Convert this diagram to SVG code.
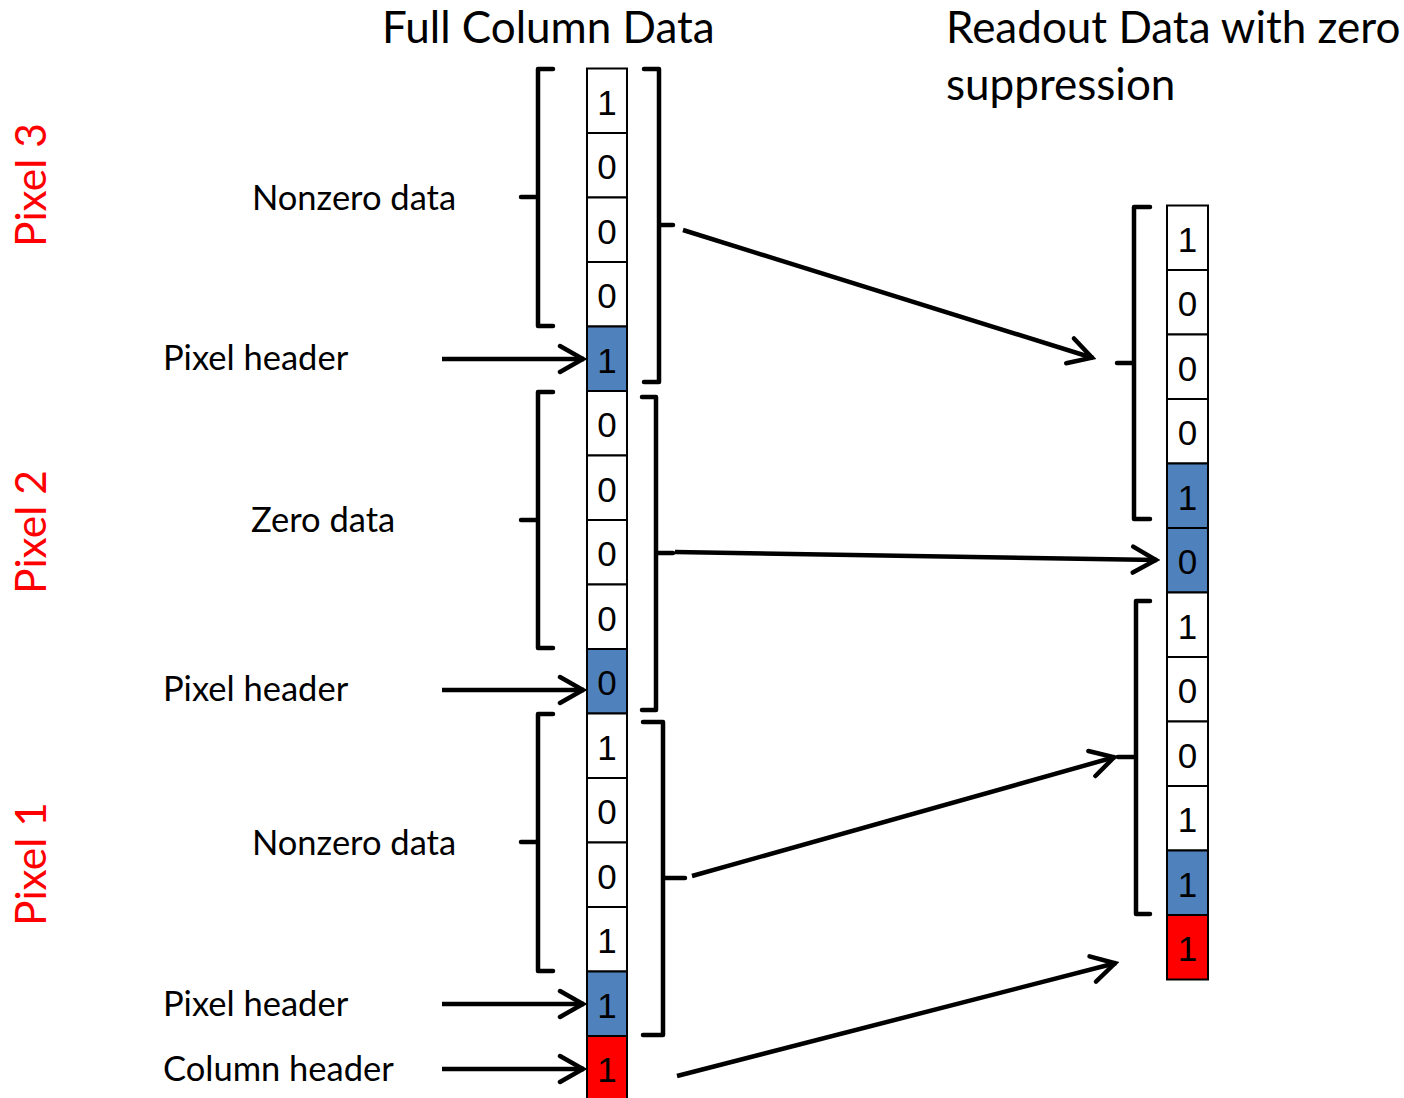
<svg xmlns="http://www.w3.org/2000/svg" width="1404" height="1098" viewBox="0 0 1404 1098">
<style>
.lbl{font-family:Lato,"Liberation Sans",sans-serif;font-size:34.5px;fill:#000}
.ttl{font-family:Lato,"Liberation Sans",sans-serif;font-size:44px;fill:#000}
.pix{font-family:Lato,"Liberation Sans",sans-serif;font-size:42.5px;fill:#ff0000}
.dig{font-family:"Liberation Sans",Arial,sans-serif;font-size:35px;fill:#000;text-anchor:middle}
.c{fill:#fff;stroke:#000;stroke-width:2}
.b{fill:#4f81bd;stroke:#000;stroke-width:2}
.r{fill:#ff0000;stroke:#000;stroke-width:2}
.br{fill:none;stroke:#000;stroke-width:4.5;stroke-linejoin:round;stroke-linecap:round}
.ln{fill:none;stroke:#000;stroke-width:4.5;marker-end:url(#arr)}
</style>
<defs>
<marker id="arr" viewBox="-28 -18 32 36" refX="1" refY="0" markerWidth="32" markerHeight="36" markerUnits="userSpaceOnUse" orient="auto">
<path d="M-23,-13 L0,0 L-23,13" fill="none" stroke="#000" stroke-width="4.5" stroke-linecap="round" stroke-linejoin="miter"/>
</marker>
</defs>
<rect width="1404" height="1098" fill="#fff"/>

<g id="titles">
<text class="ttl" x="382" y="43">Full Column Data</text>
<text class="ttl" x="946" y="43">Readout Data with zero</text>
<text class="ttl" x="946" y="100">suppression</text>
</g>

<g id="pixel-labels">
<text class="pix" transform="translate(46,247) rotate(-90)">Pixel 3</text>
<text class="pix" transform="translate(46,594) rotate(-90)">Pixel 2</text>
<text class="pix" transform="translate(46,926) rotate(-90)">Pixel 1</text>
</g>

<g id="side-labels">
<text class="lbl" x="252" y="210">Nonzero data</text>
<text class="lbl" x="163" y="370">Pixel header</text>
<text class="lbl" x="251" y="532">Zero data</text>
<text class="lbl" x="163" y="701">Pixel header</text>
<text class="lbl" x="252" y="855">Nonzero data</text>
<text class="lbl" x="163" y="1016">Pixel header</text>
<text class="lbl" x="163" y="1081">Column header</text>
</g>

<g id="full-column">
<rect class="c" x="587" y="68.5" width="40" height="64.5"/><text class="dig" x="607" y="114.5">1</text>
<rect class="c" x="587" y="133" width="40" height="64.5"/><text class="dig" x="607" y="179">0</text>
<rect class="c" x="587" y="197.5" width="40" height="64.5"/><text class="dig" x="607" y="243.5">0</text>
<rect class="c" x="587" y="262" width="40" height="64.5"/><text class="dig" x="607" y="308">0</text>
<rect class="b" x="587" y="326.5" width="40" height="64.5"/><text class="dig" x="607" y="372.5">1</text>
<rect class="c" x="587" y="391" width="40" height="64.5"/><text class="dig" x="607" y="437">0</text>
<rect class="c" x="587" y="455.5" width="40" height="64.5"/><text class="dig" x="607" y="501.5">0</text>
<rect class="c" x="587" y="520" width="40" height="64.5"/><text class="dig" x="607" y="566">0</text>
<rect class="c" x="587" y="584.5" width="40" height="64.5"/><text class="dig" x="607" y="630.5">0</text>
<rect class="b" x="587" y="649" width="40" height="64.5"/><text class="dig" x="607" y="695">0</text>
<rect class="c" x="587" y="713.5" width="40" height="64.5"/><text class="dig" x="607" y="759.5">1</text>
<rect class="c" x="587" y="778" width="40" height="64.5"/><text class="dig" x="607" y="824">0</text>
<rect class="c" x="587" y="842.5" width="40" height="64.5"/><text class="dig" x="607" y="888.5">0</text>
<rect class="c" x="587" y="907" width="40" height="64.5"/><text class="dig" x="607" y="953">1</text>
<rect class="b" x="587" y="971.5" width="40" height="64.5"/><text class="dig" x="607" y="1017.5">1</text>
<rect class="r" x="587" y="1036" width="40" height="64.5"/><text class="dig" x="607" y="1082">1</text>
</g>

<g id="readout-column">
<rect class="c" x="1167" y="205.5" width="41" height="64.5"/><text class="dig" x="1187.5" y="251.5">1</text>
<rect class="c" x="1167" y="270" width="41" height="64.5"/><text class="dig" x="1187.5" y="316">0</text>
<rect class="c" x="1167" y="334.5" width="41" height="64.5"/><text class="dig" x="1187.5" y="380.5">0</text>
<rect class="c" x="1167" y="399" width="41" height="64.5"/><text class="dig" x="1187.5" y="445">0</text>
<rect class="b" x="1167" y="463.5" width="41" height="64.5"/><text class="dig" x="1187.5" y="509.5">1</text>
<rect class="b" x="1167" y="528" width="41" height="64.5"/><text class="dig" x="1187.5" y="574">0</text>
<rect class="c" x="1167" y="592.5" width="41" height="64.5"/><text class="dig" x="1187.5" y="638.5">1</text>
<rect class="c" x="1167" y="657" width="41" height="64.5"/><text class="dig" x="1187.5" y="703">0</text>
<rect class="c" x="1167" y="721.5" width="41" height="64.5"/><text class="dig" x="1187.5" y="767.5">0</text>
<rect class="c" x="1167" y="786" width="41" height="64.5"/><text class="dig" x="1187.5" y="832">1</text>
<rect class="b" x="1167" y="850.5" width="41" height="64.5"/><text class="dig" x="1187.5" y="896.5">1</text>
<rect class="r" x="1167" y="915" width="41" height="64.5"/><text class="dig" x="1187.5" y="961">1</text>
</g>

<g id="brackets">
<path class="br" d="M553,69 H538 V326 H553 M538,197 H521"/>
<path class="br" d="M644,69 H659 V382 H644 M659,225 H673"/>
<path class="br" d="M553,392 H538 V648 H553 M538,520 H521"/>
<path class="br" d="M642,397 H656 V710 H642 M656,553 H673"/>
<path class="br" d="M553,714 H538 V971 H553 M538,842 H521"/>
<path class="br" d="M643,722 H663 V1035 H643 M663,878 H685"/>
<path class="br" d="M1150,207 H1134 V519 H1150 M1134,363 H1117"/>
<path class="br" d="M1150,601 H1136 V914 H1150 M1136,757 H1118"/>
</g>

<g id="connectors">
<line class="ln" x1="442" y1="359" x2="584" y2="359"/>
<line class="ln" x1="442" y1="690" x2="584" y2="690"/>
<line class="ln" x1="442" y1="1004" x2="584" y2="1004"/>
<line class="ln" x1="442" y1="1069" x2="584" y2="1069"/>
<line class="ln" x1="683" y1="230" x2="1093" y2="358"/>
<line class="ln" x1="675" y1="552" x2="1157" y2="560"/>
<line class="ln" x1="692" y1="876" x2="1115" y2="757"/>
<line class="ln" x1="677" y1="1076" x2="1116" y2="963"/>
</g>
</svg>
